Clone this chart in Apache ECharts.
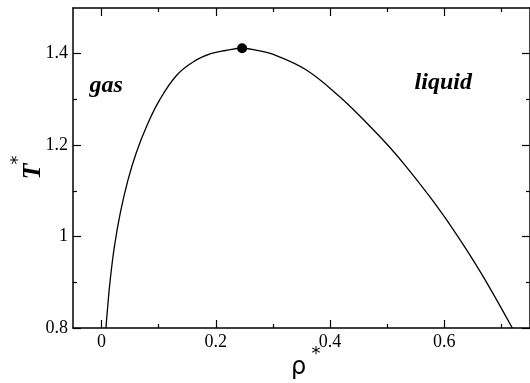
<!DOCTYPE html>
<html><head><meta charset="utf-8">
<script src="https://cdn.jsdelivr.net/npm/echarts@6/dist/echarts.min.js"></script>
<style>html,body{margin:0;padding:0;background:#fff}#c{width:530px;height:383px}</style>
</head><body><div id="c"></div>
<script>
// coexistence curve (density rho*, temperature T*)
const rho  = [0.0077,0.0098,0.0152,0.0226,0.0328,0.0463,0.0606,0.0787,0.1017,0.1315,0.1615,0.1911,0.2172,0.2465,0.2747,0.2997,0.3578,0.4159,0.4646,0.5033,0.5378,0.5831,0.6239,0.6678,0.719];
const temp = [0.800,0.833,0.906,0.979,1.052,1.124,1.183,1.241,1.299,1.353,1.383,1.400,1.407,1.412,1.407,1.399,1.365,1.307,1.248,1.197,1.146,1.073,1.000,0.913,0.800];
const criticalRho = [0.246];
const criticalT = [1.412];
const xMajor = [0, 0.2, 0.4, 0.6];
const xMinor = [0.1, 0.3, 0.5, 0.7];
const yMajor = [0.8, 1, 1.2, 1.4];
const yMinor = [0.9, 1.1, 1.3];
const regionNames = ['gas', 'liquid'];
const regionRho = [-0.021, 0.548];
const regionT = [1.312, 1.318];

const chart = echarts.init(document.getElementById('c'), null, {renderer: 'canvas'});
const LINE = {show: true, onZero: false, lineStyle: {color: '#000', width: 1.5}};
const NOLINE = {show: false, onZero: false};
const tickFont = {color: '#000', fontFamily: '"Liberation Serif", serif', fontSize: 18};

function xAx(pos, ticks, len, labels, line) {
  return {
    type: 'value', gridIndex: 0, position: pos, min: -0.05, max: 0.75,
    axisLine: line ? LINE : NOLINE,
    axisTick: {show: true, inside: true, length: len, customValues: ticks, lineStyle: {color: '#000', width: 1.2}},
    axisLabel: labels ? Object.assign({show: true, customValues: ticks, margin: 5}, tickFont) : {show: false},
    splitLine: {show: false}, minorTick: {show: false}
  };
}
function yAx(pos, ticks, len, labels, line) {
  return {
    type: 'value', gridIndex: 0, position: pos, min: 0.8, max: 1.5,
    axisLine: line ? LINE : NOLINE,
    axisTick: {show: true, inside: true, length: len, customValues: ticks, lineStyle: {color: '#000', width: 1.2}},
    axisLabel: labels ? Object.assign({show: true, customValues: ticks, margin: 5}, tickFont) : {show: false},
    splitLine: {show: false}, minorTick: {show: false}
  };
}

chart.setOption({
  animation: false,
  backgroundColor: '#fff',
  grid: {left: 73, top: 8, width: 459, height: 320, containLabel: false},
  xAxis: [
    xAx('bottom', xMajor, 8, true, true),
    xAx('bottom', xMinor, 4, false, false),
    xAx('top', xMajor, 8, false, true),
    xAx('top', xMinor, 4, false, false)
  ],
  yAxis: [
    yAx('left', yMajor, 8, true, true),
    yAx('left', yMinor, 4, false, false),
    yAx('right', yMajor, 8, false, true),
    yAx('right', yMinor, 4, false, false)
  ],
  series: [
    {
      type: 'line', xAxisIndex: 0, yAxisIndex: 0,
      data: rho.map((r, i) => [r, temp[i]]),
      smooth: 0.4, showSymbol: false, symbol: 'none',
      lineStyle: {color: '#000', width: 1.3}, clip: true
    },
    {
      type: 'scatter', xAxisIndex: 0, yAxisIndex: 0,
      data: criticalRho.map((r, i) => [r, criticalT[i]]),
      symbol: 'circle', symbolSize: 10, itemStyle: {color: '#000', opacity: 1}
    }
  ]
});

const g = [];
regionNames.forEach((name, i) => {
  const p = chart.convertToPixel({xAxisIndex: 0, yAxisIndex: 0}, [regionRho[i], regionT[i]]);
  g.push({type: 'text', x: p[0], y: p[1] - 8,
    style: {text: name, font: 'bold italic 24px "Liberation Serif", serif', fill: '#000', textAlign: 'left', textVerticalAlign: 'middle', align: 'left', verticalAlign: 'middle'}});
});
// axis titles
g.push({type: 'text', x: 298.5, y: 368,
  style: {text: 'ρ', font: '24px "DejaVu Sans", sans-serif', fill: '#000', align: 'center', verticalAlign: 'middle', textAlign: 'center', textVerticalAlign: 'middle'}});
g.push({type: 'text', x: 316, y: 354.5,
  style: {text: '*', font: '18px "DejaVu Sans", sans-serif', fill: '#000', align: 'center', verticalAlign: 'middle', textAlign: 'center', textVerticalAlign: 'middle'}});
g.push({type: 'text', x: 33, y: 171.5, rotation: Math.PI / 2,
  style: {text: 'T', font: 'bold italic 26px "Liberation Serif", serif', fill: '#000', align: 'center', verticalAlign: 'middle', textAlign: 'center', textVerticalAlign: 'middle'}});
g.push({type: 'text', x: 18.6, y: 160, rotation: Math.PI / 2,
  style: {text: '*', font: '18px "DejaVu Sans", sans-serif', fill: '#000', align: 'center', verticalAlign: 'middle', textAlign: 'center', textVerticalAlign: 'middle'}});
chart.setOption({graphic: g});
</script>
</body></html>
